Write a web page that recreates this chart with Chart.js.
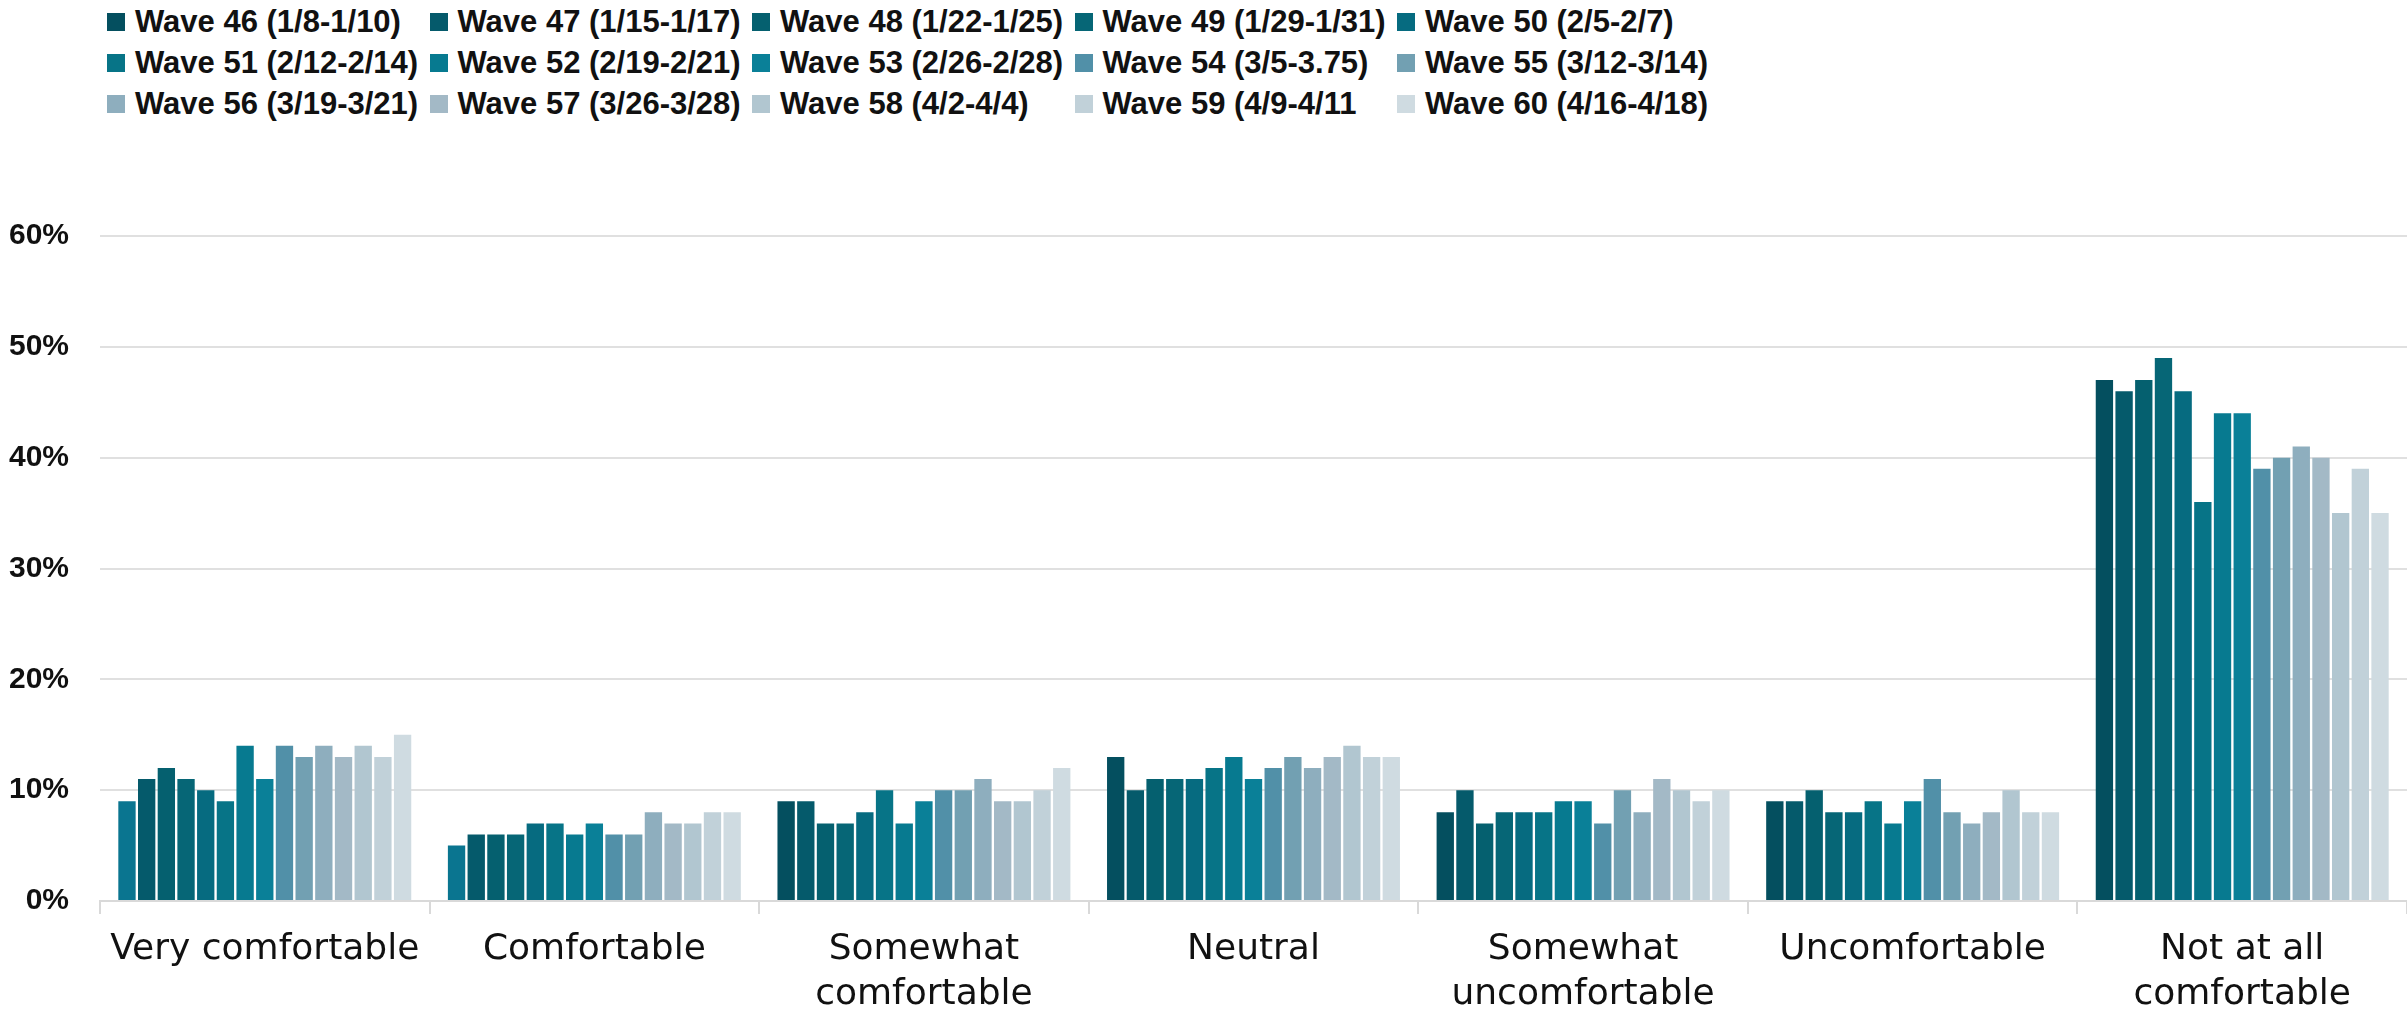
<!DOCTYPE html>
<html lang="en">
<head>
  <meta charset="UTF-8" />
  <title>Comfort by wave</title>
  <script src="https://cdn.jsdelivr.net/npm/chart.js"></script>
  <style>
    * {
      box-sizing: border-box;
    }
    body {
      margin: 0;
      width: 2407px;
      height: 1015px;
      background: #fff;
      font-family: "DejaVu Sans", sans-serif;
      position: relative;
      overflow: hidden;
    }
    #legend {
      position: absolute;
      left: 107px;
      top: 1px;
      display: grid;
      grid-template-columns: repeat(5, 322.5px);
      grid-auto-rows: 41px;
    }
    .item {
      display: flex;
      align-items: center;
      font-family: "Liberation Sans", sans-serif;
      font-weight: bold;
      font-size: 31px;
      color: #111;
      white-space: nowrap;
    }
    .item span {
      width: 18px;
      height: 18px;
      margin-right: 10px;
      flex: none;
    }
    #wrap {
      position: absolute;
      left: 0;
      top: 0;
    }
  </style>
</head>
<body>
  <div id="legend"></div>
  <div id="wrap"><canvas id="chart" width="2407" height="1015"></canvas></div>
  <script>
    const categories = [
      "Very comfortable",
      "Comfortable",
      ["Somewhat", "comfortable"],
      "Neutral",
      ["Somewhat", "uncomfortable"],
      "Uncomfortable",
      ["Not at all", "comfortable"]
    ];

    const waves = [
      "Wave 46 (1/8-1/10)", "Wave 47 (1/15-1/17)", "Wave 48 (1/22-1/25)", "Wave 49 (1/29-1/31)", "Wave 50 (2/5-2/7)",
      "Wave 51 (2/12-2/14)", "Wave 52 (2/19-2/21)", "Wave 53 (2/26-2/28)", "Wave 54 (3/5-3.75)", "Wave 55 (3/12-3/14)",
      "Wave 56 (3/19-3/21)", "Wave 57 (3/26-3/28)", "Wave 58 (4/2-4/4)", "Wave 59 (4/9-4/11", "Wave 60 (4/16-4/18)"
    ];

    // percent per category, one array per wave
    const wave46 = [9, 5, 9, 13, 8, 9, 47];
    const wave47 = [11, 6, 9, 10, 10, 9, 46];
    const wave48 = [12, 6, 7, 11, 7, 10, 47];
    const wave49 = [11, 6, 7, 11, 8, 8, 49];
    const wave50 = [10, 7, 8, 11, 8, 8, 46];
    const wave51 = [9, 7, 10, 12, 8, 9, 36];
    const wave52 = [14, 6, 7, 13, 9, 7, 44];
    const wave53 = [11, 7, 9, 11, 9, 9, 44];
    const wave54 = [14, 6, 10, 12, 7, 11, 39];
    const wave55 = [13, 6, 10, 13, 10, 8, 40];
    const wave56 = [14, 8, 11, 12, 8, 7, 41];
    const wave57 = [13, 7, 9, 13, 11, 8, 40];
    const wave58 = [14, 7, 9, 14, 10, 10, 35];
    const wave59 = [13, 8, 10, 13, 9, 8, 39];
    const wave60 = [15, 8, 12, 13, 10, 8, 35];

    const yTicks = [0, 10, 20, 30, 40, 50, 60];

    const series = [wave46, wave47, wave48, wave49, wave50, wave51, wave52, wave53,
                    wave54, wave55, wave56, wave57, wave58, wave59, wave60];

    const colors = [
      "#044f5f", "#055a6b", "#05606f", "#066676", "#066b80",
      "#077487", "#077a90", "#0a8098", "#5190a8", "#72a0b2",
      "#8eaebe", "#a3b9c6", "#b1c6d0", "#c1d1d9", "#cfdbe1"
    ];

    // first bar in the first two groups is drawn in a lighter teal in the original
    const firstOverride = "#0a7590";

    const datasets = series.map((data, i) => ({
      label: waves[i],
      data: data,
      backgroundColor: i === 0
        ? data.map((v, j) => (j < 2 ? firstOverride : colors[0]))
        : colors[i],
      borderWidth: 0,
      categoryPercentage: 0.896,
      barPercentage: 0.88
    }));

    // html legend, laid out in a 5 column grid like the original
    const legendEl = document.getElementById("legend");
    waves.forEach((w, i) => {
      const d = document.createElement("div");
      d.className = "item";
      d.innerHTML = `<span style="background:${colors[i]}"></span>${w}`;
      legendEl.appendChild(d);
    });

    const ctx = document.getElementById("chart").getContext("2d");
    new Chart(ctx, {
      type: "bar",
      data: {
        labels: categories,
        datasets: datasets
      },
      options: {
        responsive: false,
        animation: false,
        devicePixelRatio: 1,
        layout: {
          padding: { top: 236, left: 0, right: 0, bottom: 0 }
        },
        plugins: {
          legend: { display: false },
          tooltip: { enabled: false }
        },
        scales: {
          x: {
            afterFit: (scale) => { scale.height = 114; },
            grid: {
              offset: true,
              drawOnChartArea: false,
              tickLength: 13,
              color: "#d9d9d9",
              lineWidth: 2
            },
            border: { color: "#d9d9d9", width: 2 },
            ticks: {
              autoSkip: false,
              maxRotation: 0,
              padding: 13,
              color: "#111",
              font: { family: "DejaVu Sans", size: 36, lineHeight: 1.26 }
            }
          },
          y: {
            min: yTicks[0],
            max: yTicks[yTicks.length - 1],
            afterFit: (scale) => { scale.width = 100; },
            afterBuildTicks: (scale) => {
              scale.ticks = yTicks.map(v => ({ value: v }));
            },
            grid: {
              drawTicks: false,
              color: "#e0e0e0",
              lineWidth: 2
            },
            border: { display: false },
            ticks: {
              padding: 31,
              color: "#111",
              font: { family: "Liberation Sans", size: 30, weight: "bold" },
              callback: (v) => v + "%"
            }
          }
        }
      }
    });
  </script>
</body>
</html>
